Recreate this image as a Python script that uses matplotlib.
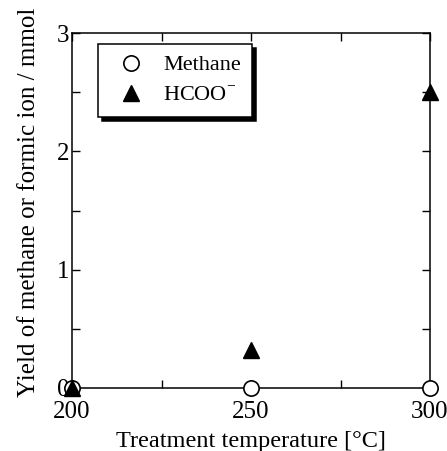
import matplotlib
matplotlib.use("Agg")
import matplotlib.pyplot as plt
from matplotlib.ticker import MultipleLocator

plt.rcParams['font.family'] = ['Liberation Serif', 'DejaVu Serif']
plt.rcParams['mathtext.fontset'] = 'custom'
plt.rcParams['mathtext.rm'] = 'Liberation Serif'

temperature = [200, 250, 300]
methane = [0.0, 0.0, 0.0]
formate = [0.0, 0.32, 2.5]

fig = plt.figure(figsize=(4.47, 4.51), dpi=100)
ax = fig.add_axes([72/447, 1-388/451, (430-72)/447, (388-33)/451])

ax.plot(temperature, methane, linestyle='none', marker='o', markerfacecolor='white',
        markeredgecolor='black', markeredgewidth=1.2, markersize=11, clip_on=False,
        zorder=3, label='Methane')
ax.plot(temperature, formate, linestyle='none', marker='^', color='black',
        markersize=11, clip_on=False, zorder=4, label=r'HCOO$^{\mathregular{-}}$')

ax.set_xlim(200, 300)
ax.set_ylim(0, 3)
ax.xaxis.set_major_locator(MultipleLocator(50))
ax.xaxis.set_minor_locator(MultipleLocator(25))
ax.yaxis.set_major_locator(MultipleLocator(1))
ax.yaxis.set_minor_locator(MultipleLocator(0.5))
ax.tick_params(which='both', direction='in', top=True, right=True, labelsize=18, width=1)
ax.tick_params(which='major', length=6)
ax.tick_params(which='minor', length=6)
ax.tick_params(axis='y', pad=2)
ax.tick_params(axis='x', pad=9)
for s in ax.spines.values():
    s.set_linewidth(1.1)

ax.set_xlabel('Treatment temperature [°C]', fontsize=17.5)
ax.xaxis.set_label_coords(0.5, -(447 - 388) / 355, transform=ax.transAxes)
ax.xaxis.label.set_va('baseline')
ax.set_ylabel('Yield of methane or formic ion / mmol', fontsize=18)
ax.yaxis.set_label_coords((40 - 72) / 358, 1 - (202 - 33) / 355, transform=ax.transAxes)

leg = ax.legend(loc='upper left', bbox_to_anchor=(0.072, 0.97),
                fontsize=16, frameon=True, fancybox=False,
                shadow={'color': 'black', 'alpha': 1, 'ox': 3, 'oy': -3},
                edgecolor='black', framealpha=1, borderpad=0.5, handletextpad=0.45,
                labelspacing=0.45, borderaxespad=0, handlelength=2.0)
leg.get_frame().set_linewidth(1.1)

fig.savefig('out.png', dpi=100)
